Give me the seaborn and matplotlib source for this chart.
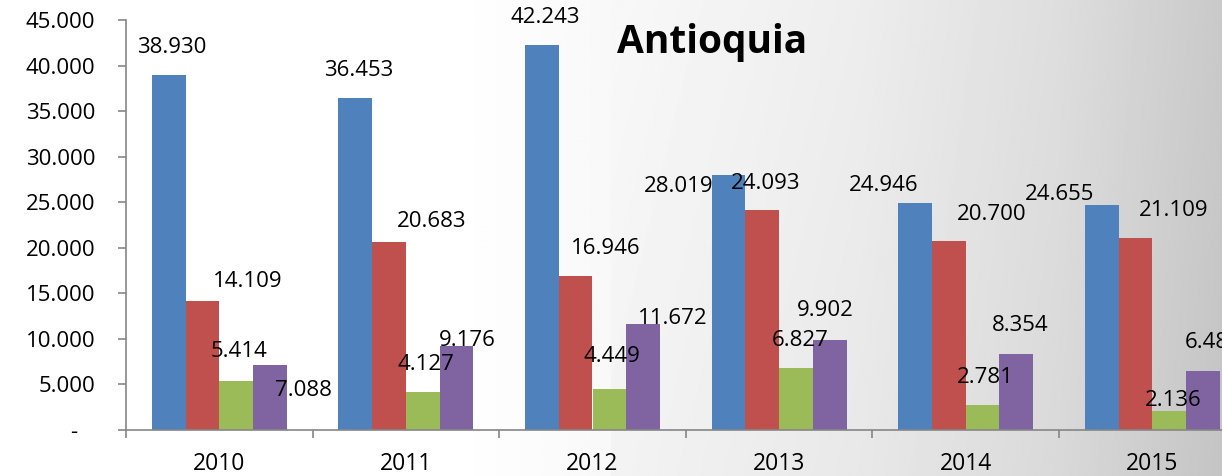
import numpy as np
import pandas as pd
import matplotlib
matplotlib.use("Agg")
import matplotlib.pyplot as plt
import seaborn as sns

# ---- data ----
years = ["2010", "2011", "2012", "2013", "2014", "2015"]
series_names = ["Serie 1", "Serie 2", "Serie 3", "Serie 4"]
serie1 = [38930, 36453, 42243, 28019, 24946, 24655]
serie2 = [14109, 20683, 16946, 24093, 20700, 21109]
serie3 = [5414, 4127, 4449, 6827, 2781, 2136]
serie4 = [7088, 9176, 11672, 9902, 8354, 6484]
yticks = [0, 5000, 10000, 15000, 20000, 25000, 30000, 35000, 40000, 45000]
title = "Antioquia"

# label offsets (pixels) from bar top-centre, per series per year
label_dx = [
    [3, 3, 3, -50, -31, -42],
    [45, 43, 30, 3, 43, 38],
    [3, 3, 3, 4, 3, 4],
    [34, 11, 30, -4, 4, 10],
]
label_dy = [
    [-28, -27, -28, 12, -17, -11],
    [-20, -20, -27, -27, -27, -27],
    [-29, -28, -33, -27, -27, -10],
    [25, -6, -5, -29, -28, -28],
]

colors = ["#4F81BD", "#C0504D", "#9BBB59", "#8064A2"]

df = pd.DataFrame({
    "year": years * 4,
    "serie": sum([[s] * len(years) for s in series_names], []),
    "value": serie1 + serie2 + serie3 + serie4,
})

sns.set_theme(style="white")
plt.rcParams["font.family"] = ["Open Sans", "DejaVu Sans"]

W, H = 1222, 476
fig = plt.figure(figsize=(W / 100, H / 100), dpi=100)

# background gradient
bg = fig.add_axes([0, 0, 1, 1], zorder=-10)
xs = np.linspace(0, 1, 600)
xpix = xs * W
shade = np.interp(xpix, [0, 450, 600, 860, 1060, 1222], [1.0, 1.0, 0.975, 0.93, 0.87, 0.79])
ys = np.linspace(0, 1, 100)
img = shade[None, :] - 0.02 * (ys[:, None]) * (xs[None, :] > 0.5)
bg.imshow(np.clip(img, 0, 1), cmap="gray", vmin=0, vmax=1, aspect="auto", extent=[0, 1, 0, 1])
bg.set_axis_off()

left = 126 / W
bottom = (H - 430) / H
top = (H - 20) / H
ax = fig.add_axes([left, bottom, 1 - left, top - bottom])
ax.set_facecolor("none")

sns.barplot(data=df, x="year", y="value", hue="serie", palette=colors,
            width=0.7225, ax=ax, legend=False, saturation=1, edgecolor="none")

ax.set_xlabel("")
ax.set_ylabel("")

ax.set_yticks(yticks)
ax.set_yticklabels(["-   " if v == 0 else f"{v:,}".replace(",", ".") for v in yticks])
ax.set_xticks(range(len(years)))
ax.set_xticklabels(years)
ax.set_xticks(np.arange(-0.5, len(years), 1.0), minor=True)
ax.set_ylim(0, 45000)
ax.set_xlim(-0.5, (W - 126) / 186.6 - 0.5)

gray = "#868686"
for s in ["top", "right"]:
    ax.spines[s].set_visible(False)
for s in ["left", "bottom"]:
    ax.spines[s].set_color(gray)
    ax.spines[s].set_linewidth(1.2)

ax.tick_params(axis="y", which="major", direction="out", length=6, width=1.2,
               color=gray, labelsize=16, pad=16, labelcolor="black", left=True)
ax.tick_params(axis="x", which="major", length=0, labelsize=16.5, pad=16, labelcolor="black")
ax.tick_params(axis="x", which="minor", direction="out", length=6, width=1.2,
               color=gray, bottom=True)

for j, cont in enumerate(ax.containers):
    for i, bar in enumerate(cont):
        v = bar.get_height()
        cx = bar.get_x() + bar.get_width() / 2
        ax.annotate(f"{int(v):,}".replace(",", "."), xy=(cx, v),
                    xytext=(label_dx[j][i], -label_dy[j][i]), textcoords="offset pixels",
                    ha="center", va="center", fontsize=16, color="black",
                    annotation_clip=False)

fig.text(712 / W, 1 - 42 / H, title, fontsize=28, fontweight="bold",
         ha="center", va="center", color="black")

fig.savefig("out.png", dpi=100)
